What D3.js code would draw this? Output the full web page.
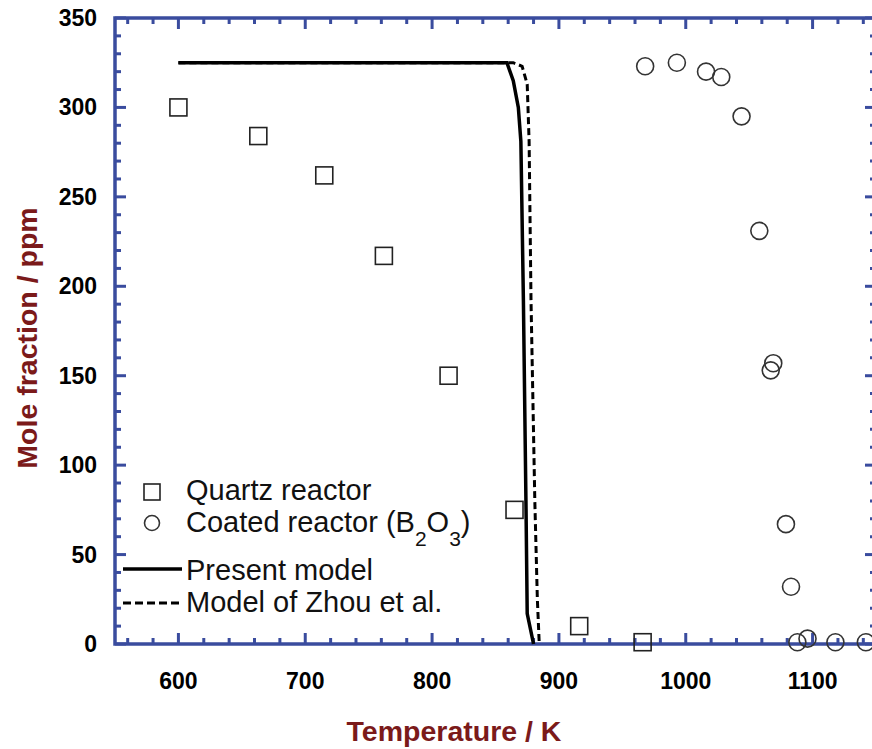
<!DOCTYPE html>
<html>
<head>
<meta charset="utf-8">
<script src="https://cdn.jsdelivr.net/npm/d3@7"></script>
<style>
  body { margin: 0; background: #fff; }
  svg { display: block; font-family: Arial, "Liberation Sans", sans-serif; }
</style>
</head>
<body>
<svg id="chart" width="872" height="749"></svg>
<script>
// measured values
const quartzT = [600, 663, 715, 762, 813, 865, 916, 966]
const quartzPpm = [300, 284, 262, 217, 150, 75, 10, 1]

const coatedT = [968, 993, 1016, 1028, 1044, 1058, 1069, 1067, 1079, 1083, 1088, 1096, 1118, 1142]
const coatedPpm = [323, 325, 320, 317, 295, 231, 157, 153, 67, 32, 1, 3, 1, 1]

const presentT = [600, 859, 864, 868, 870, 872, 874, 875, 880]
const presentPpm = [325, 325, 315, 300, 281, 192, 80, 17, 0]

const zhouT = [600, 864, 871, 875, 876.5, 878, 881, 883, 884.5]
const zhouPpm = [325, 325, 323, 313, 281, 192, 80, 25, 0]

const xTicks = [600, 700, 800, 900, 1000, 1100]
const yTicks = [0, 50, 100, 150, 200, 250, 300, 350]

const axisBlue = '#3a4c9e'
const titleRed = '#7b1a1a'

const svg = d3.select('#chart')
const x = d3.scaleLinear().domain([550, 1150]).range([115, 876])
const y = d3.scaleLinear().domain([0, 350]).range([644, 18])

const minorX = d3.range(560, 1150, 20)
const minorY = d3.range(0, 351, 10)

// frame
const frame = svg.append('g')
frame.append('rect')
	.attr('x', x(550)).attr('y', y(350))
	.attr('width', x(1150) - x(550)).attr('height', y(0) - y(350))
	.attr('fill', 'none').attr('stroke', axisBlue).attr('stroke-width', 3.5)

// inward ticks on all four sides
const tickLen = v => (v % 100 === 0 ? 11 : 6)
const tickLenY = v => (v % 50 === 0 ? 11 : 6)
frame.selectAll('.tb').data(minorX).enter().append('line')
	.attr('x1', d => x(d)).attr('x2', d => x(d))
	.attr('y1', y(0)).attr('y2', d => y(0) - tickLen(d))
	.attr('stroke', axisBlue).attr('stroke-width', 3)
frame.selectAll('.tt').data(minorX).enter().append('line')
	.attr('x1', d => x(d)).attr('x2', d => x(d))
	.attr('y1', y(350)).attr('y2', d => y(350) + tickLen(d))
	.attr('stroke', axisBlue).attr('stroke-width', 3)
frame.selectAll('.tl').data(minorY).enter().append('line')
	.attr('y1', d => y(d)).attr('y2', d => y(d))
	.attr('x1', x(550)).attr('x2', d => x(550) + tickLenY(d))
	.attr('stroke', axisBlue).attr('stroke-width', 3)
frame.selectAll('.tr').data(minorY).enter().append('line')
	.attr('y1', d => y(d)).attr('y2', d => y(d))
	.attr('x1', x(1150)).attr('x2', d => x(1150) - tickLenY(d))
	.attr('stroke', axisBlue).attr('stroke-width', 3)

// tick labels
svg.append('g').selectAll('text').data(xTicks).enter().append('text')
	.attr('x', d => x(d)).attr('y', 689)
	.attr('text-anchor', 'middle')
	.attr('font-size', 23).attr('font-weight', 'bold')
	.text(d => d)
svg.append('g').selectAll('text').data(yTicks).enter().append('text')
	.attr('x', 97).attr('y', d => y(d) + 8)
	.attr('text-anchor', 'end')
	.attr('font-size', 23).attr('font-weight', 'bold')
	.text(d => d)

// axis titles
svg.append('text')
	.attr('x', 454).attr('y', 741)
	.attr('text-anchor', 'middle')
	.attr('font-size', 28.5).attr('font-weight', 'bold').attr('fill', titleRed)
	.text('Temperature / K')
svg.append('text')
	.attr('transform', 'translate(37,338) rotate(-90)')
	.attr('text-anchor', 'middle')
	.attr('font-size', 28.5).attr('font-weight', 'bold').attr('fill', titleRed)
	.text('Mole fraction / ppm')

// model lines
const line = d3.line().x(d => x(d[0])).y(d => y(d[1]))
svg.append('path')
	.datum(d3.zip(zhouT, zhouPpm))
	.attr('d', line)
	.attr('fill', 'none').attr('stroke', '#000').attr('stroke-width', 3)
	.attr('stroke-dasharray', '7,4')
svg.append('path')
	.datum(d3.zip(presentT, presentPpm))
	.attr('d', line)
	.attr('fill', 'none').attr('stroke', '#000').attr('stroke-width', 3.5)

// data points
const sq = 17
svg.append('g').selectAll('rect').data(d3.zip(quartzT, quartzPpm)).enter().append('rect')
	.attr('x', d => x(d[0]) - sq / 2).attr('y', d => y(d[1]) - sq / 2)
	.attr('width', sq).attr('height', sq)
	.attr('fill', 'none').attr('stroke', '#222').attr('stroke-width', 1.6)
svg.append('g').selectAll('circle').data(d3.zip(coatedT, coatedPpm)).enter().append('circle')
	.attr('cx', d => x(d[0])).attr('cy', d => y(d[1])).attr('r', 8.5)
	.attr('fill', 'none').attr('stroke', '#333').attr('stroke-width', 1.6)

// legend
const leg = svg.append('g').attr('font-size', 29).attr('fill', '#111')
leg.append('rect').attr('x', 144).attr('y', 484).attr('width', 16).attr('height', 16)
	.attr('fill', 'none').attr('stroke', '#222').attr('stroke-width', 1.6)
leg.append('text').attr('x', 186).attr('y', 500).text('Quartz reactor')
leg.append('circle').attr('cx', 152).attr('cy', 523).attr('r', 7.5)
	.attr('fill', 'none').attr('stroke', '#333').attr('stroke-width', 1.6)
const ct = leg.append('text').attr('x', 186).attr('y', 532)
ct.append('tspan').text('Coated reactor (B')
ct.append('tspan').attr('dy', 14).attr('font-size', 21).text('2')
ct.append('tspan').attr('dy', -14).text('O')
ct.append('tspan').attr('dy', 14).attr('font-size', 21).text('3')
ct.append('tspan').attr('dy', -14).text(')')
leg.append('line').attr('x1', 123).attr('x2', 182).attr('y1', 569).attr('y2', 569)
	.attr('stroke', '#000').attr('stroke-width', 3.5)
leg.append('text').attr('x', 186).attr('y', 580).text('Present model')
leg.append('line').attr('x1', 123).attr('x2', 182).attr('y1', 603).attr('y2', 603)
	.attr('stroke', '#000').attr('stroke-width', 3).attr('stroke-dasharray', '8,4')
leg.append('text').attr('x', 186).attr('y', 612).text('Model of Zhou et al.')
</script>
</body>
</html>
